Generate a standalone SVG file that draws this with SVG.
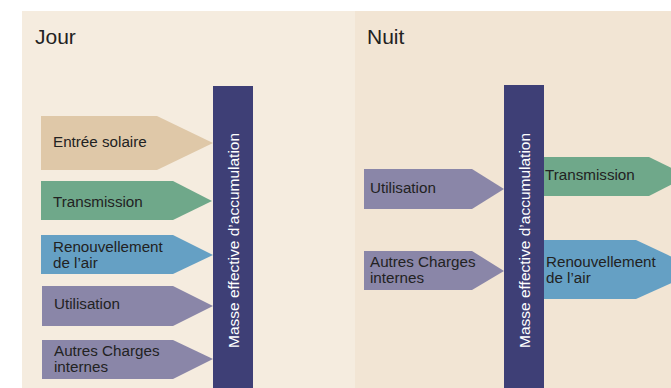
<svg xmlns="http://www.w3.org/2000/svg" width="671" height="388" viewBox="0 0 671 388">
<style>
text{font-family:"Liberation Sans",Arial,sans-serif;fill:#222}
.t{font-size:15.2px}
.h{font-size:21px}
.bar{fill:#3e3f76}
.bt{font-size:15.5px;fill:#fff}
.sol{fill:#dfc8a8}.tra{fill:#6fa88a}.ren{fill:#65a0c4}.uti{fill:#8a86a8}
</style>
<rect x="0" y="0" width="671" height="388" fill="#fff"/>
<rect id="jour-panel" x="22" y="11" width="333" height="377" fill="#f5ecdf"/>
<rect id="nuit-panel" x="355" y="11" width="316" height="377" fill="#f2e5d4"/>
<text class="h" x="35" y="44">Jour</text>
<text class="h" x="367" y="44">Nuit</text>
<g id="jour-masse">
<rect class="bar" x="213" y="86" width="40" height="302"/>
<text class="bt" transform="translate(239,348) rotate(-90)">Masse effective d’accumulation</text>
</g>
<g id="nuit-masse">
<rect class="bar" x="504" y="85" width="40" height="303"/>
<text class="bt" transform="translate(530,348) rotate(-90)">Masse effective d’accumulation</text>
</g>
<g id="connectors">
<g id="j-solaire"><polygon class="sol" points="41,116 157,116 213,143 157,170 41,170"/><text class="t" x="53" y="147">Entrée solaire</text></g>
<g id="j-transmission"><polygon class="tra" points="41,181 173,181 212,201 173,220 41,220"/><text class="t" x="53" y="207">Transmission</text></g>
<g id="j-renouvellement"><polygon class="ren" points="41,235 173,235 213,255 173,274 41,274"/><text class="t" x="53" y="252">Renouvellement</text><text class="t" x="53" y="268">de l’air</text></g>
<g id="j-utilisation"><polygon class="uti" points="42,286 173,286 213,306 173,326 42,326"/><text class="t" x="54" y="309">Utilisation</text></g>
<g id="j-autres"><polygon class="uti" points="42,340 173,340 213,359 173,379 42,379"/><text class="t" x="54" y="356">Autres Charges</text><text class="t" x="54" y="372">internes</text></g>
<g id="n-utilisation"><polygon class="uti" points="364,169 472,169 504,189 472,209 364,209"/><text class="t" x="370" y="193">Utilisation</text></g>
<g id="n-autres"><polygon class="uti" points="364,251 472,251 504,271 472,290 364,290"/><text class="t" x="370" y="267">Autres Charges</text><text class="t" x="370" y="283">internes</text></g>
<g id="n-transmission"><polygon class="tra" points="544,157 649,157 688,176 649,196 544,196"/><text class="t" x="545" y="180">Transmission</text></g>
<g id="n-renouvellement"><polygon class="ren" points="544,240 636,240 700,270 636,299 544,299"/><text class="t" x="546" y="267">Renouvellement</text><text class="t" x="546" y="283">de l’air</text></g>
</g>
</svg>
